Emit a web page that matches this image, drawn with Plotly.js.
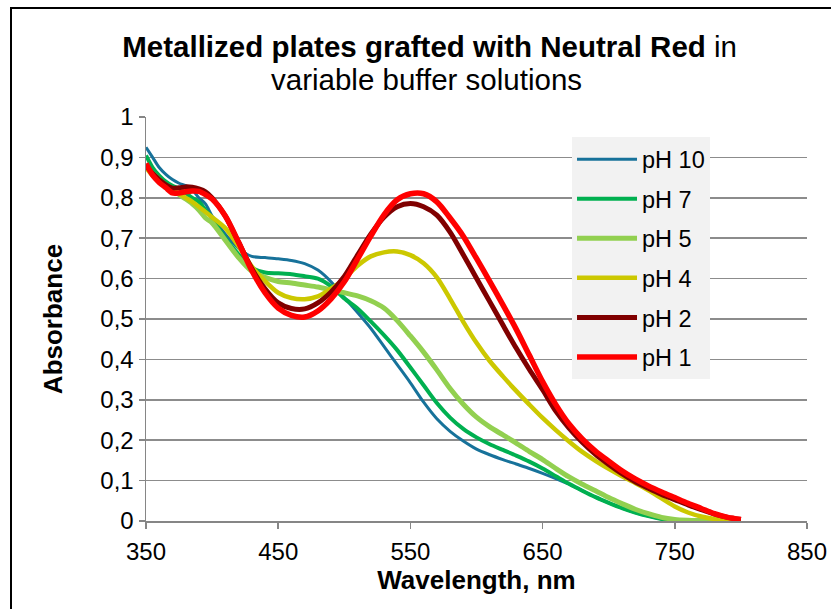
<!DOCTYPE html>
<html>
<head>
<meta charset="utf-8">
<script src="https://cdn.plot.ly/plotly-3.0.1.min.js"></script>
<style>
  html, body { margin: 0; padding: 0; background: #fff; overflow: hidden; }
  #frame { position: absolute; left: 10px; top: 7px; width: 900px; height: 700px; border: 2px solid #000; box-sizing: border-box; pointer-events: none; z-index: 5; }
  #chart { position: absolute; left: 0; top: 0; width: 831px; height: 609px; }
</style>
</head>
<body>
<div id="chart"></div>
<div id="frame"></div>
<script>
// Wavelength grid (nm)
const wavelength = [350,355,360,365,370,375,380,385,390,395,400,410,420,430,440,450,460,470,480,490,500,510,520,530,540,550,560,570,580,590,600,610,620,630,640,650,660,670,680,690,700,710,720,730,740,750,760,770,780,790,800];

// Absorbance values
const pH10 = [0.925,0.900,0.875,0.858,0.845,0.836,0.830,0.820,0.800,0.785,0.755,0.710,0.675,0.655,0.652,0.649,0.645,0.637,0.621,0.592,0.553,0.516,0.477,0.432,0.387,0.342,0.294,0.253,0.222,0.198,0.178,0.164,0.152,0.141,0.130,0.118,0.105,0.091,0.075,0.059,0.045,0.032,0.021,0.012,0.005,0.001,0,0,0,0,0];
const pH7  = [0.905,0.875,0.855,0.840,0.830,0.823,0.812,0.800,0.790,0.770,0.750,0.700,0.660,0.627,0.615,0.613,0.611,0.606,0.600,0.581,0.551,0.526,0.494,0.460,0.423,0.380,0.336,0.292,0.256,0.228,0.207,0.190,0.176,0.162,0.147,0.130,0.111,0.092,0.075,0.059,0.045,0.032,0.021,0.012,0.005,0.001,0,0,0,0,0];
const pH5  = [0.880,0.860,0.845,0.830,0.820,0.808,0.797,0.785,0.770,0.750,0.738,0.695,0.652,0.618,0.603,0.593,0.589,0.584,0.579,0.572,0.565,0.557,0.545,0.527,0.496,0.458,0.418,0.374,0.328,0.289,0.257,0.233,0.213,0.193,0.172,0.152,0.130,0.109,0.091,0.075,0.058,0.043,0.029,0.018,0.009,0.004,0.002,0.001,0,0,0];
const pH4  = [0.875,0.855,0.840,0.828,0.818,0.810,0.800,0.790,0.778,0.765,0.752,0.725,0.680,0.630,0.594,0.565,0.552,0.549,0.556,0.575,0.600,0.632,0.655,0.665,0.667,0.658,0.638,0.603,0.550,0.493,0.441,0.396,0.358,0.322,0.288,0.255,0.225,0.197,0.171,0.149,0.129,0.111,0.094,0.076,0.056,0.036,0.021,0.011,0.005,0.002,0.001];
const pH2  = [0.880,0.860,0.845,0.832,0.824,0.825,0.827,0.826,0.822,0.815,0.800,0.755,0.690,0.625,0.575,0.540,0.526,0.525,0.540,0.567,0.605,0.658,0.710,0.752,0.778,0.786,0.778,0.757,0.715,0.659,0.601,0.543,0.485,0.428,0.375,0.325,0.272,0.230,0.195,0.165,0.140,0.117,0.097,0.081,0.066,0.053,0.040,0.028,0.017,0.009,0.004];
const pH1  = [0.885,0.856,0.838,0.825,0.812,0.812,0.815,0.817,0.816,0.808,0.797,0.755,0.690,0.620,0.565,0.527,0.509,0.505,0.520,0.550,0.592,0.648,0.705,0.758,0.795,0.810,0.810,0.790,0.750,0.705,0.650,0.593,0.535,0.475,0.410,0.345,0.288,0.240,0.203,0.173,0.148,0.124,0.104,0.087,0.072,0.058,0.044,0.031,0.018,0.009,0.004];

const seriesNames = ['pH 10','pH 7','pH 5','pH 4','pH 2','pH 1'];
const seriesData = [pH10, pH7, pH5, pH4, pH2, pH1];
const colors = ['#17729A','#00B050','#92D050','#CCC800','#800000','#FF0000'];
const widths = [3, 4, 5, 4.5, 5, 5.5];

const xTicks = [350,450,550,650,750,850];

const titleLine1 = '<b>Metallized plates grafted with Neutral Red</b> in';
const titleLine2 = 'variable buffer solutions';

const traces = seriesData.map((vals, i) => ({
  x: wavelength,
  y: vals,
  type: 'scatter',
  mode: 'lines',
  name: seriesNames[i],
  legendgroup: 'g' + i,
  line: {color: colors[i], width: widths[i], shape: 'spline', smoothing: 0.8}
}));

const font = 'Liberation Sans, Arial, sans-serif';

const layout = {
  width: 831,
  height: 609,
  margin: {l: 146, r: 24, t: 117, b: 88},
  paper_bgcolor: '#fff',
  plot_bgcolor: '#fff',
  separators: ', ',
  font: {family: font, color: '#000', size: 24},
  showlegend: true,
  title: {
    text: titleLine1,
    font: {family: font, size: 29.5, color: '#000'},
    x: 0.517, xref: 'container', xanchor: 'center',
    y: 1 - 47 / 609, yref: 'container', yanchor: 'middle'
  },
  annotations: [{
    text: titleLine2,
    xref: 'paper', yref: 'paper',
    x: (426 - 146) / 661, y: (521 - 80) / 404,
    xanchor: 'center', yanchor: 'middle',
    showarrow: false,
    font: {family: font, size: 29.5, color: '#000'}
  }],
  xaxis: {
    range: [350, 850],
    tickvals: xTicks,
    ticktext: xTicks.map(String),
    showgrid: false,
    zeroline: false,
    showline: true,
    linecolor: '#868686',
    linewidth: 1.5,
    ticks: 'outside',
    ticklen: 6,
    tickcolor: '#868686',
    tickwidth: 1.5,
    ticklabelstandoff: 3,
    tickfont: {family: font, size: 24, color: '#000'},
    title: {text: '<b>Wavelength, nm</b>', font: {family: font, size: 26, color: '#000'}, standoff: 4},
    fixedrange: true
  },
  yaxis: {
    range: [0, 1],
    dtick: 0.1,
    tick0: 0,
    showgrid: true,
    gridcolor: '#8c8c8c',
    gridwidth: 1.5,
    zeroline: false,
    showline: true,
    linecolor: '#868686',
    linewidth: 1.5,
    ticks: 'outside',
    ticklen: 6,
    tickcolor: '#868686',
    tickwidth: 1.5,
    tickfont: {family: font, size: 24, color: '#000'},
    title: {text: '<b>Absorbance</b>', font: {family: font, size: 26, color: '#000'}, standoff: 30},
    fixedrange: true
  },
  legend: {
    x: 0.6445, y: 0.9495, xanchor: 'left', yanchor: 'top',
    bgcolor: '#F2F2F2',
    borderwidth: 0,
    font: {family: font, size: 23.5, color: '#000'},
    itemwidth: 60,
    traceorder: 'grouped',
    tracegroupgap: 6
  }
};

Plotly.newPlot('chart', traces, layout, {displayModeBar: false, staticPlot: true});
</script>
</body>
</html>
